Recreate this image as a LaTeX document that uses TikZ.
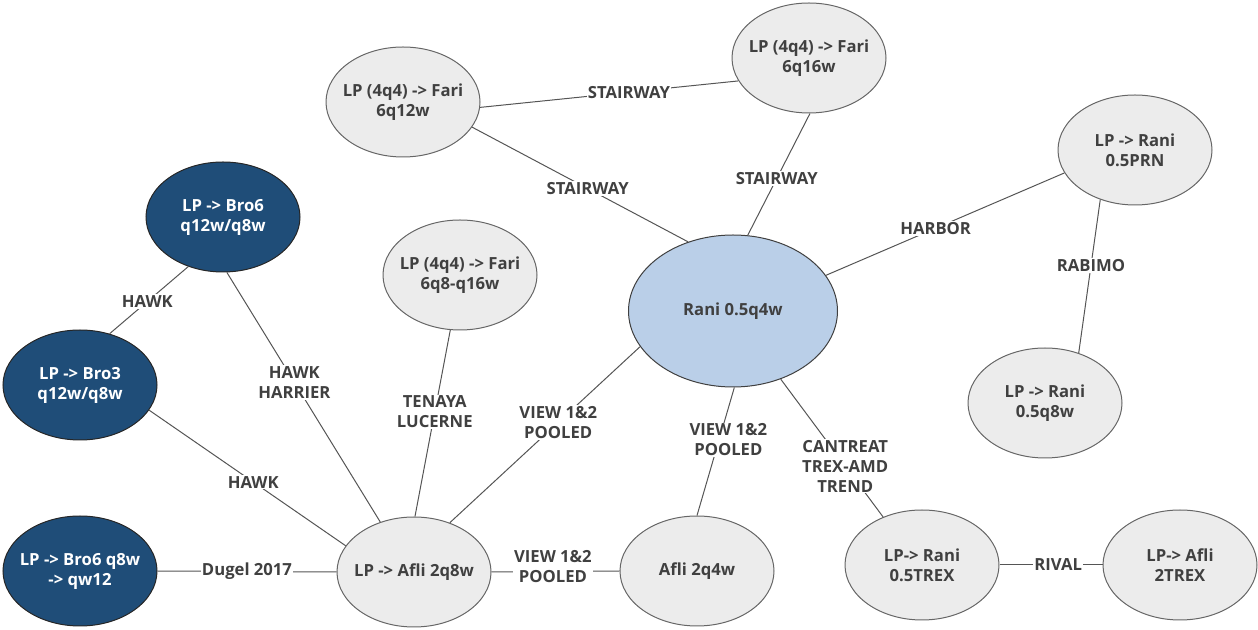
\documentclass[tikz,border=0pt]{standalone}
\usepackage{fontspec}
\setmainfont{Open Sans}
\usetikzlibrary{shapes.geometric}
\definecolor{txt}{HTML}{404040}
\definecolor{nodegrey}{HTML}{ECECEC}
\definecolor{greyline}{HTML}{666666}
\definecolor{darkblue}{HTML}{1F4D78}
\definecolor{ranifill}{HTML}{BACFE8}
\definecolor{linec}{HTML}{555555}
\begin{document}
\begin{tikzpicture}[x=0.75pt,y=-0.75pt,
  base/.style={ellipse, draw, line width=0.75pt, inner sep=0pt,
    minimum width=115.5pt, minimum height=82.5pt},
  ntxt/.style={align=center, inner sep=0pt, font=\bfseries\fontsize{12.5}{15}\selectfont},
  grey/.style={base, fill=nodegrey, draw=greyline, label={[ntxt, text=txt]center:#1}},
  dark/.style={base, fill=darkblue, draw=black!85, label={[ntxt, text=white]center:#1}},
  mainnode/.style={base, fill=ranifill, draw=black!75, minimum width=156.75pt, minimum height=114pt,
    label={[ntxt, text=txt]center:#1}},
  conn/.style={draw=linec, line width=0.75pt},
  lbl/.style={fill=white, inner sep=1pt, text=txt, align=center, font=\bfseries\fontsize{12.5}{15}\selectfont}
]
\useasboundingbox (0,0) rectangle (1258,630);

\node[grey={LP (4q4) -> Fari\\6q12w}] (F12) at (403,102) {};
\node[grey={LP (4q4) -> Fari\\6q16w}] (F16) at (809,58) {};
\node[grey={LP (4q4) -> Fari\\6q8-q16w}] (F8) at (460,275) {};
\node[mainnode={Rani 0.5q4w}] (Rani) at (733,311) {};
\node[grey={LP -> Rani\\0.5PRN}] (PRN) at (1135,150) {};
\node[grey={LP -> Rani\\0.5q8w}] (Q8) at (1045,403) {};
\node[grey={LP-> Rani\\0.5TREX}] (TREX) at (922,565) {};
\node[grey={LP-> Afli\\2TREX}] (AfliT) at (1180,565) {};
\node[grey={Afli 2q4w}] (Afli4) at (697,571) {};
\node[grey={LP -> Afli 2q8w}] (Afli8) at (414,572) {};
\node[dark={LP -> Bro6\\q12w/q8w}] (Bro6a) at (223,217) {};
\node[dark={LP -> Bro3\\q12w/q8w}] (Bro3) at (80,385) {};
\node[dark={LP -> Bro6 q8w\\-> qw12}] (Bro6b) at (80,571) {};

\draw[conn] (F12.-4) -- node[lbl, pos=0.576] {STAIRWAY} (F16.-162);
\draw[conn] (F12.-20) -- node[lbl, pos=0.535] {STAIRWAY} (Rani.123.5);
\draw[conn] (F16.-89) -- node[lbl, pos=0.533] {STAIRWAY} (Rani.79.6);
\draw[conn] (Rani.21) -- node[lbl, pos=0.46] {HARBOR} (PRN.-162);
\draw[conn] (PRN.-125) -- node[lbl, pos=0.43] {RABIMO} (Q8.56);
\draw[conn] (Rani.-55) -- node[lbl, pos=0.63] {CANTREAT\\TREX-AMD\\TREND} (TREX.129);
\draw[conn] (TREX.0) -- node[lbl, pos=0.57] {RIVAL} (AfliT.180);
\draw[conn] (Rani.-89) -- node[lbl, pos=0.41, xshift=7pt] {VIEW 1\&2\\POOLED} (Afli4.90);
\draw[conn] (Rani.201) -- node[lbl, pos=0.43] {VIEW 1\&2\\POOLED} (Afli8.54);
\draw[conn] (F8.-100) -- node[lbl, pos=0.44] {TENAYA\\LUCERNE} (Afli8.89);
\draw[conn] (Bro6a.-86) -- node[lbl, pos=0.44] {HAWK\\HARRIER} (Afli8.124);
\draw[conn] (Bro6a.-125) -- node[lbl, pos=0.52] {HAWK} (Bro3.60);
\draw[conn] (Bro3.-20) -- node[lbl, pos=0.53] {HAWK} (Afli8.159.5);
\draw[conn] (Bro6b.0) -- node[lbl, pos=0.5] {Dugel 2017} (Afli8.180);
\draw[conn] (Afli8.0) -- node[lbl, pos=0.48, yshift=4pt] {VIEW 1\&2\\POOLED} (Afli4.180);
\end{tikzpicture}
\end{document}
